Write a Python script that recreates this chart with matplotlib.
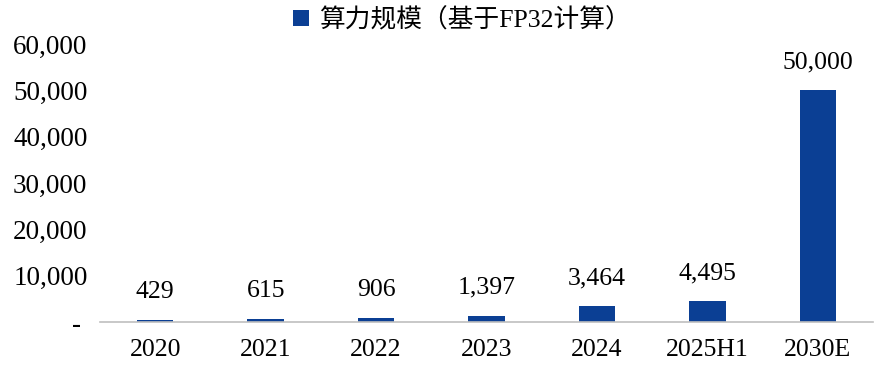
import matplotlib
matplotlib.use("Agg")
import matplotlib.pyplot as plt
from matplotlib.ticker import FuncFormatter

categories = ["2020", "2021", "2022", "2023", "2024", "2025H1", "2030E"]
values = [429, 615, 906, 1397, 3464, 4495, 50000]
series_name = "算力规模（基于FP32计算）"
yticks = [0, 10000, 20000, 30000, 40000, 50000, 60000]

plt.rcParams['font.family'] = ['Liberation Serif', 'Noto Sans CJK SC']
bar_color = "#0B3F94"

fig = plt.figure(figsize=(8.81, 3.75), dpi=100)
ax = fig.add_axes([0.1135, 0.1413, 0.8775, 0.7414])

x = range(len(categories))
bars = ax.bar(x, values, width=0.33, color=bar_color, label=series_name, zorder=2)

ax.set_ylim(0, 60000)
ax.set_xlim(-0.5, len(categories) - 0.5)
ax.set_yticks(yticks)
ax.yaxis.set_major_formatter(FuncFormatter(lambda v, p: "- " if v == 0 else f"{int(v):,}"))
ax.set_xticks(list(x))
ax.set_xticklabels(categories)
ax.tick_params(axis='both', length=0, colors="black")
ax.tick_params(axis='x', labelsize=18.5, pad=12)
ax.tick_params(axis='y', labelsize=19.5, pad=9)

for s in ["top", "right", "left"]:
    ax.spines[s].set_visible(False)
ax.spines["bottom"].set_color("#BFBFBF")
ax.spines["bottom"].set_linewidth(1.2)

for xi, v in zip(x, values):
    ax.annotate(f"{v:,}", (xi, v), xytext=(0, 12), textcoords="offset points",
                ha="center", va="bottom", fontsize=18.5)

fig.legend(handles=[bars], labels=[series_name], loc="center",
           bbox_to_anchor=(462 / 881, 1 - 20 / 375), frameon=False,
           fontsize=18.5, handlelength=0.6, handleheight=0.6, handletextpad=0.4,
           borderpad=0, borderaxespad=0)

fig.savefig("out.png", dpi=100)
